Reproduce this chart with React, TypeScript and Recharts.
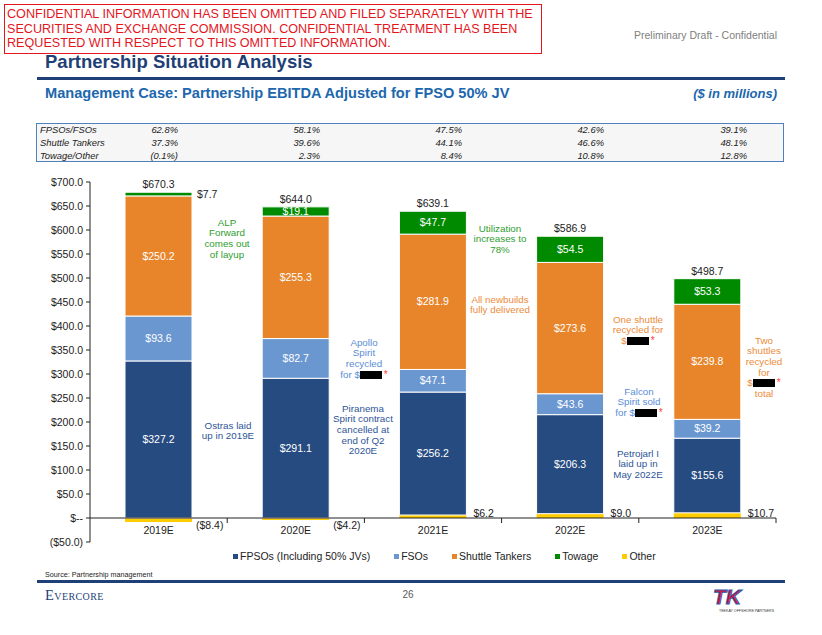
import { BarChart, Bar, XAxis, YAxis, ReferenceLine, LabelList, Legend } from 'recharts';

const years = ['2019E', '2020E', '2021E', '2022E', '2023E'];
const fpsos = [327.2, 291.1, 256.2, 206.3, 155.6];
const fsos = [93.6, 82.7, 47.1, 43.6, 39.2];
const shuttleTankers = [250.2, 255.3, 281.9, 273.6, 239.8];
const towage = [7.7, 19.1, 47.7, 54.5, 53.3];
const other = [-8.4, -4.2, 6.2, 9.0, 10.7];
const totals = [670.3, 644.0, 639.1, 586.9, 498.7];
const yTicks = [-50, 0, 50, 100, 150, 200, 250, 300, 350, 400, 450, 500, 550, 600, 650, 700];

const mixLabels = ['FPSOs/FSOs', 'Shuttle Tankers', 'Towage/Other'];
const mixFpsoFso = ['62.8%', '58.1%', '47.5%', '42.6%', '39.1%'];
const mixShuttle = ['37.3%', '39.6%', '44.1%', '46.6%', '48.1%'];
const mixTowageOther = ['(0.1%)', '2.3%', '8.4%', '10.8%', '12.8%'];

const legendOrder = ['FPSOs (Including 50% JVs)', 'FSOs', 'Shuttle Tankers', 'Towage', 'Other'];

// "#" marks a redacted amount
const notes = [
  { cx: 227, y: 223, color: '#2f9e2f', lines: ['ALP', 'Forward', 'comes out', 'of layup'] },
  { cx: 500, y: 229, color: '#2f9e2f', lines: ['Utilization', 'increases to', '78%'] },
  { cx: 500, y: 300, color: '#ed8b3a', lines: ['All newbuilds', 'fully delivered'] },
  { cx: 638, y: 320, color: '#ed8b3a', lines: ['One shuttle', 'recycled for', '$#'] },
  { cx: 764, y: 341, color: '#ed8b3a', lines: ['Two', 'shuttles', 'recycled', 'for', '$#', 'total'] },
  { cx: 364, y: 343, color: '#5b8ed6', lines: ['Apollo', 'Spirit', 'recycled', 'for $#'] },
  { cx: 228, y: 426, color: '#2e5597', lines: ['Ostras laid', 'up in 2019E'] },
  { cx: 363, y: 409, color: '#2e5597', lines: ['Piranema', 'Spirit contract', 'cancelled at', 'end of Q2', '2020E'] },
  { cx: 639, y: 392, color: '#5b8ed6', lines: ['Falcon', 'Spirit sold', 'for $#'] },
  { cx: 638, y: 454, color: '#2e5597', lines: ['Petrojarl I', 'laid up in', 'May 2022E'] },
];

const data = years.map((year, i) => ({
  year,
  fpsos: fpsos[i],
  fsos: fsos[i],
  shuttle: shuttleTankers[i],
  towage: towage[i],
  other: other[i],
  total: totals[i],
}));

const FONT = 'Arial, "Liberation Sans", sans-serif';
const PLOT_TOP = 182;
const PLOT_H = 360;
const PLOT_LEFT = 90;
const PLOT_W = 686;
const Y_MIN = -50;
const Y_MAX = 700;
const zeroY = PLOT_TOP + (PLOT_H * Y_MAX) / (Y_MAX - Y_MIN);
const band = PLOT_W / years.length;

const money = (v: number) => (v < 0 ? `($${Math.abs(v).toFixed(1)})` : `$${v.toFixed(1)}`);
const yFmt = (v: number) => (v === 0 ? '$--' : money(v));

const box = (p: any) => {
  const vb = p.viewBox || p;
  const top = Math.min(vb.y, vb.y + vb.height);
  const h = Math.abs(vb.height);
  return { x: vb.x, width: vb.width, top, h };
};

const innerLabel = (p: any) => {
  const { x, width, top, h } = box(p);
  if (h < 6) {
    return (
      <text x={x + width + 5} y={top + h / 2} dy="0.35em" fontSize={10.5} fill="#222">
        {money(p.value)}
      </text>
    );
  }
  return (
    <text x={x + width / 2} y={top + h / 2} dy="0.35em" textAnchor="middle" fontSize={10.5} fill="#fff">
      {money(p.value)}
    </text>
  );
};

const otherLabel = (p: any) => {
  const { x, width, top, h } = box(p);
  const neg = p.value < 0;
  return (
    <text x={x + width + (neg ? 4 : 7)} y={neg ? top + 11 : top + h - 1} fontSize={10.5} fill="#222">
      {money(p.value)}
    </text>
  );
};

const totalLabel = (p: any) => {
  const { x, width, top } = box(p);
  return (
    <text x={x + width / 2} y={top - 4} textAnchor="middle" fontSize={10.5} fill="#222">
      {money(p.value)}
    </text>
  );
};

const YearTick = (p: any) => (
  <g>
    <text x={p.x} y={zeroY + 16} textAnchor="middle" fontSize={10.5} fill="#222">
      {p.payload.value}
    </text>
    <line x1={p.x + band / 2} x2={p.x + band / 2} y1={zeroY} y2={zeroY + 5} stroke="#222" />
  </g>
);

const renderLegend = (p: any) => {
  const items = [...(p.payload || [])].sort(
    (a: any, b: any) => legendOrder.indexOf(a.value) - legendOrder.indexOf(b.value)
  );
  return (
    <div style={{ display: 'flex', gap: 24, paddingLeft: 233, fontSize: 10.5, color: '#222', fontFamily: FONT }}>
      {items.map((it: any) => (
        <span key={it.value} style={{ display: 'flex', alignItems: 'center' }}>
          <span style={{ width: 5, height: 5, background: it.color, marginRight: 2, display: 'inline-block' }} />
          {it.value}
        </span>
      ))}
    </div>
  );
};

function NoteLine({ text }: { text: string }) {
  if (!text.includes('#')) return <>{text}</>;
  const [before] = text.split('#');
  return (
    <>
      {before}
      <span style={{ display: 'inline-block', width: 22, height: 8, background: '#000', verticalAlign: -1 }} />
      <span style={{ color: '#ff4040', fontSize: 10, marginLeft: 2, lineHeight: '10px' }}>*</span>
    </>
  );
}

function Notes() {
  return (
    <>
      {notes.map((n, i) => (
        <div
          key={i}
          style={{
            position: 'absolute',
            left: n.cx - 60,
            width: 120,
            top: n.y - 5.35,
            textAlign: 'center',
            color: n.color,
            fontSize: 9.8,
            lineHeight: '10.7px',
            whiteSpace: 'nowrap',
          }}
        >
          {n.lines.map((l, j) => (
            <div key={j} style={{ height: 10.7 }}>
              <NoteLine text={l} />
            </div>
          ))}
        </div>
      ))}
    </>
  );
}

function MixTable() {
  const rows = [mixFpsoFso, mixShuttle, mixTowageOther];
  const baselines = [133, 146, 159];
  const colRight = [177, 319, 461, 603, 746];
  const fs = 9.4;
  return (
    <div
      style={{
        position: 'absolute',
        left: 36,
        top: 123,
        width: 748,
        height: 39,
        boxSizing: 'border-box',
        border: '1.5px solid #4f81bd',
        background: '#f6f6f6',
      }}
    >
      {rows.map((vals, r) => (
        <div key={r}>
          <div
            style={{
              position: 'absolute',
              left: 3,
              top: baselines[r] - 123 - 0.846 * fs - 1.5,
              fontSize: fs,
              lineHeight: 1,
              fontStyle: 'italic',
              color: '#222',
            }}
          >
            {mixLabels[r]}
          </div>
          {vals.map((v, c) => (
            <div
              key={c}
              style={{
                position: 'absolute',
                left: colRight[c] - 36 - 80,
                width: 80,
                textAlign: 'right',
                top: baselines[r] - 123 - 0.846 * fs - 1.5,
                fontSize: fs,
                lineHeight: 1,
                fontStyle: 'italic',
                color: '#222',
              }}
            >
              {v}
            </div>
          ))}
        </div>
      ))}
    </div>
  );
}

export default function App() {
  return (
    <div
      style={{
        position: 'absolute',
        left: 0,
        top: 0,
        width: 822,
        height: 635,
        background: '#fff',
        fontFamily: FONT,
        overflow: 'hidden',
      }}
    >
      {/* confidentiality box */}
      <div
        style={{
          position: 'absolute',
          left: 4,
          top: 4,
          width: 538,
          height: 50,
          boxSizing: 'border-box',
          border: '1.5px solid #e3161e',
          color: '#e3161e',
          fontSize: 12.6,
          lineHeight: '14.7px',
          paddingTop: 2,
          paddingLeft: 2,
          whiteSpace: 'nowrap',
        }}
      >
        <div>CONFIDENTIAL INFORMATION HAS BEEN OMITTED AND FILED SEPARATELY WITH THE</div>
        <div>SECURITIES AND EXCHANGE COMMISSION. CONFIDENTIAL TREATMENT HAS BEEN</div>
        <div>REQUESTED WITH RESPECT TO THIS OMITTED INFORMATION.</div>
      </div>
      <div style={{ position: 'absolute', right: 822 - 777, top: 39 - 0.846 * 10.5, fontSize: 10.5, lineHeight: 1, color: '#808080' }}>
        Preliminary Draft - Confidential
      </div>
      <div style={{ position: 'absolute', left: 45, top: 69 - 0.846 * 18.5, fontSize: 18.5, lineHeight: 1, fontWeight: 'bold', color: '#1f3f77' }}>
        Partnership Situation Analysis
      </div>
      <div style={{ position: 'absolute', left: 37, top: 77, width: 748, height: 2.5, background: '#1f3f77' }} />
      <div style={{ position: 'absolute', left: 45, top: 98 - 0.846 * 14.6, fontSize: 14.6, lineHeight: 1, fontWeight: 'bold', color: '#1c67ad' }}>
        Management Case: Partnership EBITDA Adjusted for FPSO 50% JV
      </div>
      <div style={{ position: 'absolute', right: 822 - 777, top: 98 - 0.846 * 13, fontSize: 13, lineHeight: 1, fontWeight: 'bold', fontStyle: 'italic', color: '#1c67ad' }}>
        ($ in millions)
      </div>

      <MixTable />

      <div style={{ position: 'absolute', left: 0, top: 0 }}>
        <BarChart
          width={822}
          height={635}
          data={data}
          stackOffset="sign"
          margin={{ top: PLOT_TOP, right: 822 - PLOT_LEFT - PLOT_W, bottom: 63, left: 0 }}
        >
          <XAxis dataKey="year" height={30} interval={0} axisLine={false} tickLine={false} tick={<YearTick />} />
          <YAxis
            width={PLOT_LEFT}
            domain={[Y_MIN, Y_MAX]}
            ticks={yTicks}
            interval={0}
            tickFormatter={yFmt}
            tick={{ fontSize: 10.5, fill: '#222' }}
            tickSize={4}
            tickMargin={3}
            tickLine={{ stroke: '#222' }}
            axisLine={{ stroke: '#222' }}
          />
          <Bar dataKey="other" name="Other" stackId="a" fill="#ffcc00" barSize={67} isAnimationActive={false}>
            <LabelList dataKey="other" content={otherLabel} />
          </Bar>
          <Bar dataKey="fpsos" name="FPSOs (Including 50% JVs)" stackId="a" fill="#264b80" stroke="#fff" strokeWidth={1} barSize={67} isAnimationActive={false}>
            <LabelList dataKey="fpsos" content={innerLabel} />
          </Bar>
          <Bar dataKey="fsos" name="FSOs" stackId="a" fill="#6b97d1" stroke="#fff" strokeWidth={1} barSize={67} isAnimationActive={false}>
            <LabelList dataKey="fsos" content={innerLabel} />
          </Bar>
          <Bar dataKey="shuttle" name="Shuttle Tankers" stackId="a" fill="#e8852a" stroke="#fff" strokeWidth={1} barSize={67} isAnimationActive={false}>
            <LabelList dataKey="shuttle" content={innerLabel} />
          </Bar>
          <Bar dataKey="towage" name="Towage" stackId="a" fill="#008a00" stroke="#fff" strokeWidth={1} barSize={67} isAnimationActive={false}>
            <LabelList dataKey="towage" content={innerLabel} />
            <LabelList dataKey="total" content={totalLabel} />
          </Bar>
          <ReferenceLine y={0} stroke="#222" strokeWidth={1} />
          <Legend
            verticalAlign="middle"
            align="center"
            layout="horizontal"
            wrapperStyle={{ position: 'absolute', top: 550, left: 0, width: 822, height: 14 }}
            content={renderLegend}
          />
        </BarChart>
      </div>

      <div style={{ position: 'absolute', left: 0, top: 0, pointerEvents: 'none' }}>
        <Notes />
      </div>

      {/* footer */}
      <div style={{ position: 'absolute', left: 45, top: 577 - 0.846 * 7.2, fontSize: 7.2, lineHeight: 1, color: '#222' }}>
        Source: Partnership management
      </div>
      <div style={{ position: 'absolute', left: 37, top: 580, width: 748, height: 2.5, background: '#1f3f77' }} />
      <div
        style={{
          position: 'absolute',
          left: 45,
          top: 600 - 0.85 * 14.5,
          fontSize: 14.5,
          lineHeight: 1,
          fontFamily: '"Liberation Serif", "DejaVu Serif", serif',
          fontVariant: 'small-caps',
          letterSpacing: 0.4,
          color: '#1f3f77',
        }}
      >
        Evercore
      </div>
      <div style={{ position: 'absolute', left: 388, width: 40, textAlign: 'center', top: 598 - 0.846 * 10, fontSize: 10, lineHeight: 1, color: '#595959' }}>
        26
      </div>
      <svg style={{ position: 'absolute', left: 700, top: 584 }} width={90} height={32}>
        <text x={13} y={20} fontSize={21} fontWeight="bold" fontStyle="italic" fill="#d8163e" stroke="#2a5caa" strokeWidth={1} fontFamily={FONT}>
          TK
        </text>
        <text x={19} y={28} fontSize={3.6} fill="#333" fontFamily={FONT}>
          TEEKAY OFFSHORE PARTNERS
        </text>
      </svg>
    </div>
  );
}
